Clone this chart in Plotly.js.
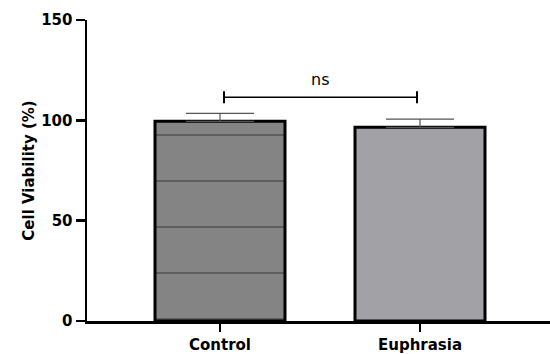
<!DOCTYPE html>
<html>
<head>
<meta charset="utf-8">
<script src="https://cdn.plot.ly/plotly-3.0.1.min.js"></script>
<style>html,body{margin:0;padding:0;background:#fff;}#chart{width:550px;height:354px;}</style>
</head>
<body>
<div id="chart"></div>
<script>
const categories = ["Control", "Euphrasia"];
const viability = [99.5, 96.5];
const errorUp = [4.0, 4.1];
const barColors = ["#848484", "#a2a1a6"];
const yTicks = [0, 50, 100, 150];
const sigLabel = "ns";
const sigY = 111.5;

const FONT = "DejaVu Sans, Verdana, sans-serif";

const trace = {
  type: "bar",
  x: categories,
  y: viability,
  width: 0.65,
  marker: {
    color: barColors,
    line: {color: "#000", width: 3},
    pattern: {shape: ["-", ""], size: 46, solidity: 0.03, fgcolor: "#555", fgopacity: 0.8, fillmode: "overlay"}
  },
  error_y: {type: "data", symmetric: false, array: errorUp, arrayminus: [0, 0], color: "#555", thickness: 1.2, width: 34},
  hoverinfo: "none"
};

const layout = {
  width: 550, height: 354,
  margin: {l: 87, r: 0, t: 20, b: 33},
  paper_bgcolor: "#fff", plot_bgcolor: "#fff",
  showlegend: false,
  font: {family: FONT, color: "#000"},
  xaxis: {
    type: "category",
    range: [-0.665, 1.65],
    showline: true, linecolor: "#000", linewidth: 2.5,
    ticks: "outside", ticklen: 8, tickwidth: 2.5, tickcolor: "#000",
    tickfont: {size: 15, family: FONT, weight: "bold"},
    showgrid: false, zeroline: false, fixedrange: true
  },
  yaxis: {
    range: [0, 150],
    tickvals: yTicks,
    showline: true, linecolor: "#000", linewidth: 2.5,
    ticks: "outside", ticklen: 9, tickwidth: 2.5, tickcolor: "#000",
    tickfont: {size: 15, family: FONT, weight: "bold"},
    showgrid: false, zeroline: false,
    title: {text: "Cell Viability (%)", font: {size: 15, family: FONT, weight: "bold"}, standoff: 3}
  },
  shapes: [
    {type: "line", xref: "x", yref: "y", x0: 0.02, x1: 0.985, y0: sigY, y1: sigY, line: {color: "#000", width: 1.5}},
    {type: "line", xref: "x", yref: "y", x0: 0.02, x1: 0.02, y0: sigY - 3, y1: sigY + 3, line: {color: "#000", width: 2}},
    {type: "line", xref: "x", yref: "y", x0: 0.985, x1: 0.985, y0: sigY - 3, y1: sigY + 3, line: {color: "#000", width: 2}}
  ],
  annotations: [
    {xref: "x", yref: "y", x: 0.5, y: sigY + 3, text: sigLabel, showarrow: false, yanchor: "bottom", font: {size: 16, family: FONT, color: "#000"}}
  ]
};

Plotly.newPlot("chart", [trace], layout, {staticPlot: true, displayModeBar: false});
</script>
</body>
</html>
